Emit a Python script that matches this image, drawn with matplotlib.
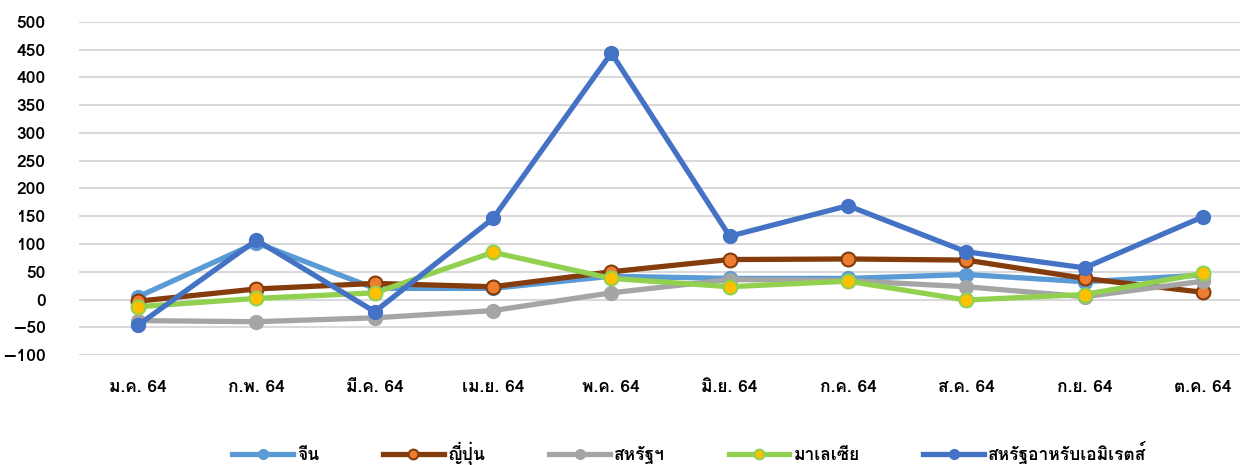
import matplotlib
matplotlib.use('Agg')
import matplotlib.pyplot as plt
from matplotlib import font_manager
from matplotlib.ft2font import FT2Font

months = ['ม.ค. 64', 'ก.พ. 64', 'มี.ค. 64', 'เม.ย. 64', 'พ.ค. 64',
          'มิ.ย. 64', 'ก.ค. 64', 'ส.ค. 64', 'ก.ย. 64', 'ต.ค. 64']
series_names = ['จีน', 'ญี่ปุ่น', 'สหรัฐฯ', 'มาเลเซีย', 'สหรัฐอาหรับเอมิเรตส์']
china = [5, 102, 20, 20, 42, 38, 38, 45, 32, 44]
japan = [-3, 19, 29, 23, 50, 72, 73, 71, 38, 13]
usa = [-38, -40, -33, -20, 12, 36, 34, 23, 5, 33]
malaysia = [-13, 2, 12, 85, 38, 23, 33, -1, 9, 47]
uae = [-46, 107, -22, 146, 444, 114, 169, 86, 57, 149]
yticks = list(range(-100, 501, 50))


# look for an installed font that has Thai glyphs
def find_thai_font():
    names = []
    for f in font_manager.fontManager.ttflist:
        try:
            cmap = FT2Font(f.fname).get_charmap()
        except Exception:
            continue
        if 0x0E21 in cmap and 0x0E35 in cmap:
            names.append(f.name)
    return names


thai = find_thai_font()
family = (thai[:1] if thai else []) + ['DejaVu Sans']
plt.rcParams['font.family'] = family
plt.rcParams['font.weight'] = 'bold'

fig = plt.figure(figsize=(12.4, 4.65), dpi=100)
ax = fig.add_axes([79 / 1240, 110 / 465, 1161 / 1240, 333 / 465])

x = list(range(len(months)))
ax.plot(x, china, color='#5B9BD5', lw=3.8, marker='o', ms=10,
        mfc='#5B9BD5', mec='#5B9BD5', label=series_names[0], zorder=3)
ax.plot(x, japan, color='#843C0C', lw=3.8, marker='o', ms=10,
        mfc='#ED7D31', mec='#843C0C', mew=1.5, label=series_names[1], zorder=3)
ax.plot(x, usa, color='#A5A5A5', lw=3.8, marker='o', ms=10,
        mfc='#A5A5A5', mec='#A5A5A5', label=series_names[2], zorder=3)
ax.plot(x, malaysia, color='#92D050', lw=3.8, marker='o', ms=10,
        mfc='#FFC000', mec='#92D050', mew=1.5, label=series_names[3], zorder=3)
ax.plot(x, uae, color='#4472C4', lw=3.8, marker='o', ms=10,
        mfc='#4472C4', mec='#4472C4', label=series_names[4], zorder=4)

ax.set_xlim(-0.5, 9.5 - 22 / 118.3)
ax.set_ylim(-100, 500)
ax.set_yticks(yticks)
ax.set_xticks(x)
ax.set_xticklabels(months)
ax.grid(axis='y', color='#D9D9D9', lw=1.5)
ax.set_axisbelow(True)
for s in ax.spines.values():
    s.set_visible(False)
ax.tick_params(length=0, labelsize=12.5, colors='black')
ax.tick_params(axis='y', pad=24)
ax.tick_params(axis='x', pad=18)

leg = fig.legend(loc='lower center', bbox_to_anchor=(0.556, -0.033), ncol=5,
                 frameon=False, fontsize=12.5, handlelength=3.5,
                 columnspacing=3.65, handletextpad=0.25, markerscale=0.7)

fig.savefig('out.png', dpi=100)
